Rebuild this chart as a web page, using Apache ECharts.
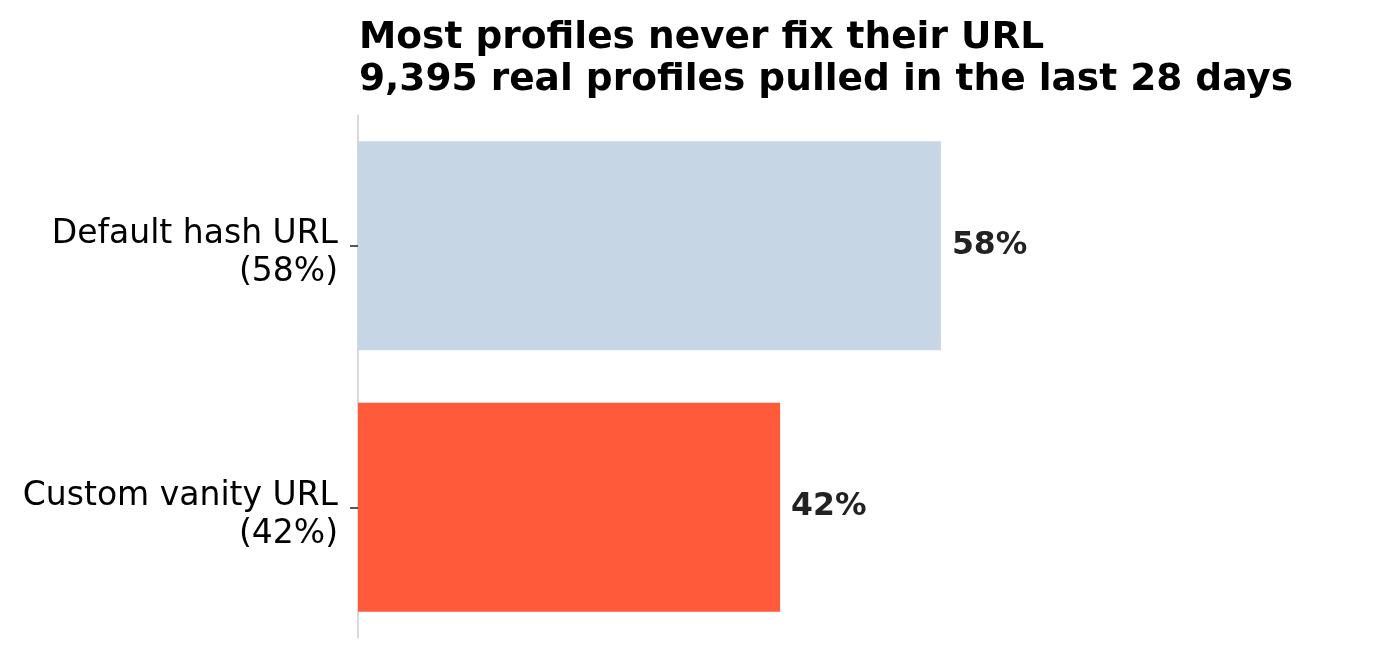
<!DOCTYPE html>
<html>
<head>
<meta charset="utf-8">
<script src="https://cdn.jsdelivr.net/npm/echarts@6/dist/echarts.min.js"></script>
<style>
html,body{margin:0;padding:0;background:#fff;}
#main{width:1380px;height:658px;}
</style>
</head>
<body>
<div id="main"></div>
<script>
// data
var categories = ['Custom vanity URL\n(42%)', 'Default hash URL\n(58%)'];
var values = [42, 58];
var barColors = ['#ff5a3a', '#c7d6e4'];

var myChart = echarts.init(document.getElementById('main'));
var font = 'DejaVu Sans';

var seriesData = [];
for (var i = 0; i < values.length; i++) {
  seriesData.push({ value: values[i], itemStyle: { color: barColors[i] } });
}

var option = {
  backgroundColor: '#fff',
  animation: false,
  title: {
    text: 'Most profiles never fix their URL\n9,395 real profiles pulled in the last 28 days',
    left: 354,
    top: 12,
    textStyle: {
      fontFamily: font,
      fontWeight: 'bold',
      fontSize: 37.5,
      lineHeight: 42,
      color: '#000'
    }
  },
  grid: { left: 358, top: 115, width: 1005, height: 523 },
  xAxis: {
    type: 'value',
    min: 0,
    max: 100,
    show: false
  },
  yAxis: {
    type: 'category',
    data: categories,
    axisLine: { show: true, lineStyle: { color: '#cccccc', width: 1.5 } },
    axisTick: { show: true, alignWithLabel: true, length: 8, lineStyle: { color: '#222', width: 1.5 } },
    axisLabel: {
      margin: 20,
      align: 'right',
      fontFamily: font,
      fontSize: 33,
      color: '#000',
      // first line sits a bit above the tick, second line below it
      formatter: function (v) {
        var parts = v.split('\n');
        return '{l1|' + parts[0] + '}\n{l2|' + parts[1] + '}';
      },
      rich: {
        l1: { fontFamily: font, fontSize: 33, lineHeight: 54, color: '#000', align: 'right' },
        l2: { fontFamily: font, fontSize: 33, lineHeight: 22, color: '#000', align: 'right' }
      }
    }
  },
  series: [{
    type: 'bar',
    data: seriesData,
    barCategoryGap: '20%',
    label: {
      show: true,
      position: 'right',
      distance: 11,
      formatter: '{c}%',
      fontFamily: font,
      fontWeight: 'bold',
      fontSize: 31.5,
      color: '#222'
    }
  }]
};
myChart.setOption(option);
</script>
</body>
</html>
